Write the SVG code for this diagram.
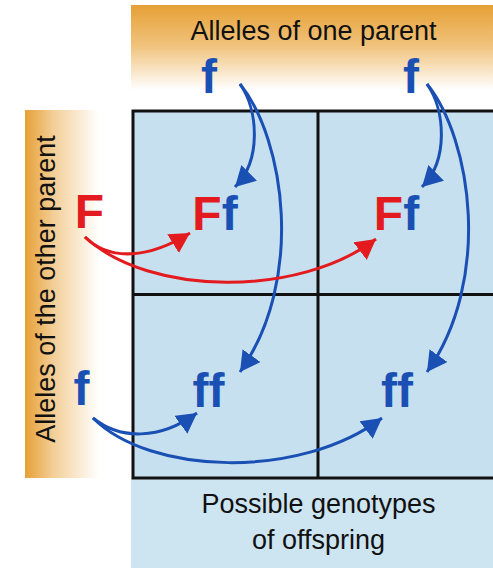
<svg xmlns="http://www.w3.org/2000/svg" width="493" height="568" viewBox="0 0 493 568">
<defs>
<linearGradient id="gTop" x1="0" y1="0" x2="0" y2="1">
<stop offset="0" stop-color="#e6a036"/>
<stop offset="0.4" stop-color="#f0c27a"/>
<stop offset="0.85" stop-color="#ffffff"/>
<stop offset="1" stop-color="#ffffff"/>
</linearGradient>
<linearGradient id="gLeft" x1="0" y1="0" x2="1" y2="0">
<stop offset="0" stop-color="#e6a036"/>
<stop offset="0.35" stop-color="#f3cf98"/>
<stop offset="0.9" stop-color="#ffffff"/>
<stop offset="1" stop-color="#ffffff"/>
</linearGradient>
<marker id="aBlue" markerUnits="userSpaceOnUse" markerWidth="22" markerHeight="24" refX="20" refY="11" orient="auto">
<path d="M0,0 L20,11 L0,22 z" fill="#1a50b4"/>
</marker>
<marker id="aRed" markerUnits="userSpaceOnUse" markerWidth="22" markerHeight="24" refX="20" refY="11" orient="auto">
<path d="M0,0 L20,11 L0,22 z" fill="#e31b1f"/>
</marker>
<style>
.lbl{font-family:"Liberation Sans",Arial,sans-serif;font-size:27px;fill:#111;text-anchor:middle}
.big{font-family:"Liberation Sans",Arial,sans-serif;font-size:48px;font-weight:bold;text-anchor:middle}
.b{fill:#1a50b4}
.r{fill:#e31b1f}
.grid{stroke:#111;stroke-width:3;fill:none}
.cb{fill:none;stroke:#1a50b4;stroke-width:3}
.cr{fill:none;stroke:#e31b1f;stroke-width:3}
</style>
</defs>
<rect width="493" height="568" fill="#ffffff"/>
<g id="top-band">
<rect x="131" y="5" width="362" height="100" fill="url(#gTop)"/>
<text class="lbl" x="313.5" y="40">Alleles of one parent</text>
</g>
<g id="left-band">
<rect x="25" y="110" width="82" height="368" fill="url(#gLeft)"/>
<text class="lbl" x="55" y="289" transform="rotate(-90 55 289)">Alleles of the other parent</text>
</g>
<g id="bottom-band">
<rect x="131" y="478" width="362" height="90" fill="#cde4f1"/>
<text class="lbl" x="318.5" y="513">Possible genotypes</text>
<text class="lbl" x="318.5" y="549">of offspring</text>
</g>
<g id="grid">
<rect x="133" y="111" width="370" height="367" fill="#c6e0f0"/>
<rect class="grid" x="133" y="111" width="370" height="367"/>
<line class="grid" x1="318" y1="111" x2="318" y2="478"/>
<line class="grid" x1="133" y1="294.5" x2="503" y2="294.5"/>
</g>
<g id="parent1-f1"><text class="big b" x="209" y="93">f</text></g>
<g id="parent1-f2"><text class="big b" x="411" y="93">f</text></g>
<g id="parent2-F"><text class="big r" x="89.5" y="228">F</text></g>
<g id="parent2-f"><text class="big b" x="81.5" y="405">f</text></g>
<g id="cell-Ff1"><text class="big" x="215" y="230"><tspan class="r">F</tspan><tspan class="b">f</tspan></text></g>
<g id="cell-Ff2"><text class="big" x="396.5" y="230"><tspan class="r">F</tspan><tspan class="b">f</tspan></text></g>
<g id="cell-ff1"><text class="big b" x="208.5" y="407">ff</text></g>
<g id="cell-ff2"><text class="big b" x="397" y="407">ff</text></g>
<g id="connectors">
<path class="cb" d="M240,84 C258,110 262,160 235,187" marker-end="url(#aBlue)"/>
<path class="cb" d="M240,84 C285,140 305,280 240,372" marker-end="url(#aBlue)"/>
<path class="cb" d="M427,84 C445,110 449,160 422,187" marker-end="url(#aBlue)"/>
<path class="cb" d="M427,84 C472,140 492,280 427,372" marker-end="url(#aBlue)"/>
<path class="cr" d="M85,237 C110,262 150,258 190,233" marker-end="url(#aRed)"/>
<path class="cr" d="M85,237 C150,297 300,297 376,239" marker-end="url(#aRed)"/>
<path class="cb" d="M93,418 C120,440 160,440 197,413" marker-end="url(#aBlue)"/>
<path class="cb" d="M93,418 C150,475 300,480 382,418" marker-end="url(#aBlue)"/>
</g>
</svg>
